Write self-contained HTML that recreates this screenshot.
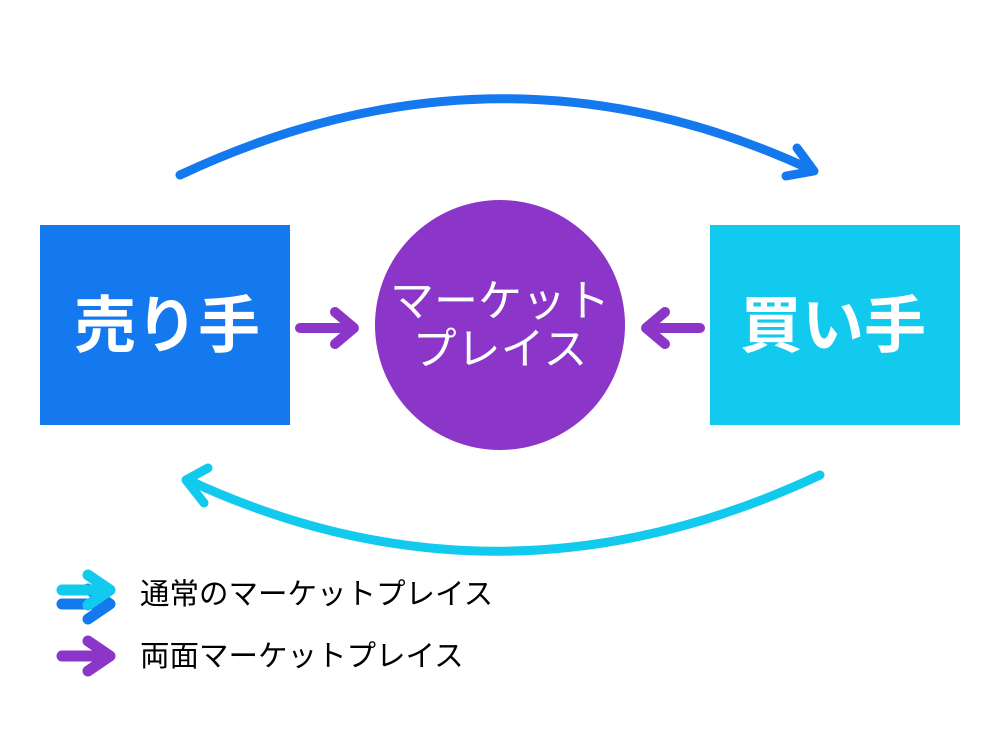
<!DOCTYPE html>
<html><head><meta charset="utf-8"><style>
body{margin:0;background:#fff;}
svg{display:block;}
text{font-family:"Liberation Sans","Noto Sans CJK JP",sans-serif;}
</style></head><body>
<svg width="1000" height="750" viewBox="0 0 1000 750" xmlns="http://www.w3.org/2000/svg">
<g fill="none" stroke-linecap="round" stroke-linejoin="round">
<path d="M180 175 Q500 25 812 170" stroke="#1479EE" stroke-width="9"/>
<path d="M797 148 L814 171 L786 176" stroke="#1479EE" stroke-width="9"/>
<path d="M820 475 Q500 625 188 480" stroke="#12C9EE" stroke-width="9"/>
<path d="M208 468 L186 480 L204 503" stroke="#12C9EE" stroke-width="9"/>
<path d="M300 328 L352 328 M335 312 L354 328 L335 344" stroke="#8B35C9" stroke-width="10"/>
<path d="M700 328 L648 328 M665 312 L646 328 L665 344" stroke="#8B35C9" stroke-width="10"/>
<path d="M62 604 L105 604 M88 589 L110 604 L88 619" stroke="#1479EE" stroke-width="11"/>
<path d="M62 590 L105 590 M88 575 L110 590 L88 605" stroke="#12C9EE" stroke-width="11"/>
<path d="M62 656 L105 656 M88 641 L110 656 L88 671" stroke="#8B35C9" stroke-width="11"/>
</g>
<rect x="40" y="225" width="250" height="200" fill="#1479EE"/>
<rect x="710" y="225" width="250" height="200" fill="#12C9EE"/>
<circle cx="500" cy="325" r="125" fill="#8B35C9"/>
<text x="167" y="347" font-size="62" font-weight="bold" fill="#fff" text-anchor="middle">売り手</text>
<text x="833" y="347" font-size="62" font-weight="bold" fill="#fff" text-anchor="middle">買い手</text>
<text x="500" y="316" font-size="44" fill="#fff" text-anchor="middle">マーケット</text>
<text x="500" y="364" font-size="44" fill="#fff" text-anchor="middle">プレイス</text>
<text x="140" y="604" font-size="29.5" fill="#000">通常のマーケットプレイス</text>
<text x="140" y="666" font-size="29.5" fill="#000">両面マーケットプレイス</text>
</svg>
</body></html>
